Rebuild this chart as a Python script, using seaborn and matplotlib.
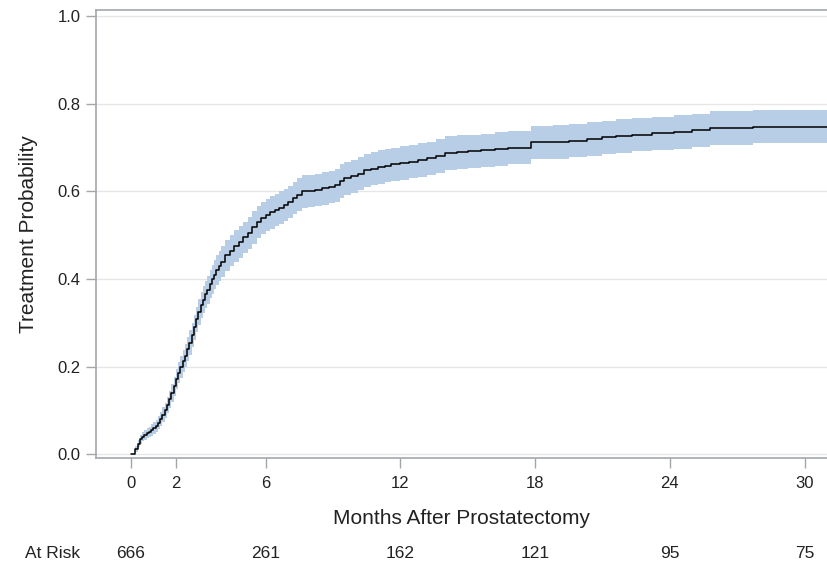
import numpy as np
import pandas as pd
import matplotlib.pyplot as plt
import matplotlib.transforms as mtransforms
import seaborn as sns

# step points of the cumulative treatment probability curve
months = [0.0, 0.1, 0.2, 0.3, 0.4, 0.5, 0.6, 0.7, 0.8, 0.9,
          1.0, 1.1, 1.2, 1.3, 1.4, 1.5, 1.6, 1.7, 1.8, 1.9,
          2.0, 2.1, 2.2, 2.3, 2.4, 2.5, 2.6, 2.7, 2.8, 2.9,
          3.0, 3.1, 3.2, 3.3, 3.4, 3.5, 3.6, 3.7, 3.8, 3.9,
          4.0, 4.2, 4.4, 4.6, 4.8, 5.0, 5.2, 5.4, 5.6, 5.8,
          6.0, 6.2, 6.4, 6.6, 6.8, 7.0, 7.2, 7.4, 7.6, 7.9,
          8.2, 8.5, 8.8, 9.1, 9.3, 9.5, 9.8, 10.1, 10.4, 10.7,
          11.0, 11.3, 11.6, 12.0, 12.4, 12.8, 13.2, 13.6, 14.0, 14.5,
          15.0, 15.6, 16.2, 16.8, 17.8, 18.8, 19.5, 20.3, 21.0, 21.6,
          22.3, 23.2, 24.2, 25.0, 25.8, 27.7, 31.0]
prob = [0, 0, 0.012, 0.024, 0.034, 0.040, 0.044, 0.048, 0.051, 0.055,
        0.060, 0.065, 0.072, 0.080, 0.090, 0.100, 0.112, 0.125, 0.140, 0.155,
        0.172, 0.186, 0.200, 0.212, 0.225, 0.240, 0.255, 0.272, 0.290, 0.308,
        0.325, 0.340, 0.353, 0.365, 0.376, 0.388, 0.400, 0.410, 0.420, 0.430,
        0.440, 0.454, 0.465, 0.475, 0.485, 0.495, 0.505, 0.518, 0.530, 0.540,
        0.546, 0.552, 0.558, 0.563, 0.569, 0.576, 0.585, 0.593, 0.600, 0.601,
        0.604, 0.607, 0.610, 0.614, 0.624, 0.630, 0.635, 0.641, 0.648, 0.652,
        0.656, 0.659, 0.662, 0.665, 0.668, 0.672, 0.676, 0.681, 0.688, 0.690,
        0.692, 0.694, 0.697, 0.700, 0.712, 0.713, 0.716, 0.720, 0.724, 0.727,
        0.730, 0.733, 0.736, 0.740, 0.745, 0.748, 0.748]
# half width of the confidence band at each step
ci_half = [0, 0, 0.006, 0.008, 0.010, 0.011, 0.011, 0.012, 0.012, 0.013,
           0.013, 0.014, 0.015, 0.016, 0.017, 0.018, 0.019, 0.020, 0.021, 0.022,
           0.023, 0.024, 0.025, 0.025, 0.026, 0.027, 0.028, 0.028, 0.029, 0.029,
           0.030, 0.030, 0.031, 0.031, 0.032, 0.032, 0.033, 0.033, 0.034, 0.034,
           0.035, 0.035, 0.035, 0.036, 0.036, 0.036, 0.037, 0.037, 0.037, 0.037,
           0.037, 0.037, 0.037, 0.037, 0.037, 0.037, 0.037, 0.037, 0.037, 0.037,
           0.037, 0.037, 0.037, 0.037, 0.038, 0.038, 0.038, 0.038, 0.038, 0.038,
           0.038, 0.038, 0.038, 0.038, 0.038, 0.038, 0.038, 0.038, 0.038, 0.038,
           0.038, 0.038, 0.038, 0.038, 0.038, 0.038, 0.038, 0.038, 0.038, 0.038,
           0.038, 0.038, 0.038, 0.038, 0.038, 0.037, 0.037]

xticks = [0, 2, 6, 12, 18, 24, 30]
yticks = [0.0, 0.2, 0.4, 0.6, 0.8, 1.0]
risk_times = [0, 6, 12, 18, 24, 30]
risk_counts = [666, 261, 162, 121, 95, 75]

df = pd.DataFrame({'months': months, 'prob': prob, 'half': ci_half})
df['lower'] = df['prob'] - df['half']
df['upper'] = df['prob'] + df['half']

sns.set_theme(style='white')
plt.rcParams['font.family'] = ['Liberation Sans', 'DejaVu Sans']
text_col = '#222222'
axis_col = '#a3a7ab'

fig = plt.figure(figsize=(8.27, 5.67), dpi=100)
ax = fig.add_axes([0.116, 0.192, 0.884, 0.790])

ax.fill_between(df['months'], df['lower'], df['upper'], step='post',
                color='#b8cde6', linewidth=0, zorder=2)
sns.lineplot(data=df, x='months', y='prob', ax=ax, color='black',
             linewidth=1.1, drawstyle='steps-post', estimator=None, zorder=3)

ax.set_xlim(-1.56, 31.0)
ax.set_ylim(-0.009, 1.014)
ax.set_xticks(xticks)
ax.set_yticks(yticks)
ax.set_yticklabels([f'{v:.1f}' for v in yticks])
ax.yaxis.grid(True, color='#e6e6e6', linewidth=1, zorder=0)
ax.xaxis.grid(False)
ax.set_axisbelow(True)

ax.spines['right'].set_visible(False)
for side in ['left', 'bottom', 'top']:
    ax.spines[side].set_color(axis_col)
    ax.spines[side].set_linewidth(1.2)

ax.tick_params(axis='both', which='major', length=7, width=1, color=axis_col,
               labelsize=12, labelcolor=text_col, direction='out',
               bottom=True, left=True)
ax.tick_params(axis='x', pad=6)
ax.tick_params(axis='y', pad=4)

ax.set_xlabel('Months After Prostatectomy', fontsize=15, color=text_col, labelpad=13)
ax.set_ylabel('Treatment Probability', fontsize=15, color=text_col, labelpad=14)

# at-risk table under the axis
trans = mtransforms.blended_transform_factory(ax.transData, fig.transFigure)
risk_y = 1 - 553 / 567
for t, n in zip(risk_times, risk_counts):
    ax.text(t, risk_y, str(n), transform=trans, ha='center', va='center',
            fontsize=12.5, color=text_col)
fig.text(25 / 827, risk_y, 'At Risk', ha='left', va='center',
         fontsize=12.5, color=text_col)

fig.savefig('out.png', dpi=100)
